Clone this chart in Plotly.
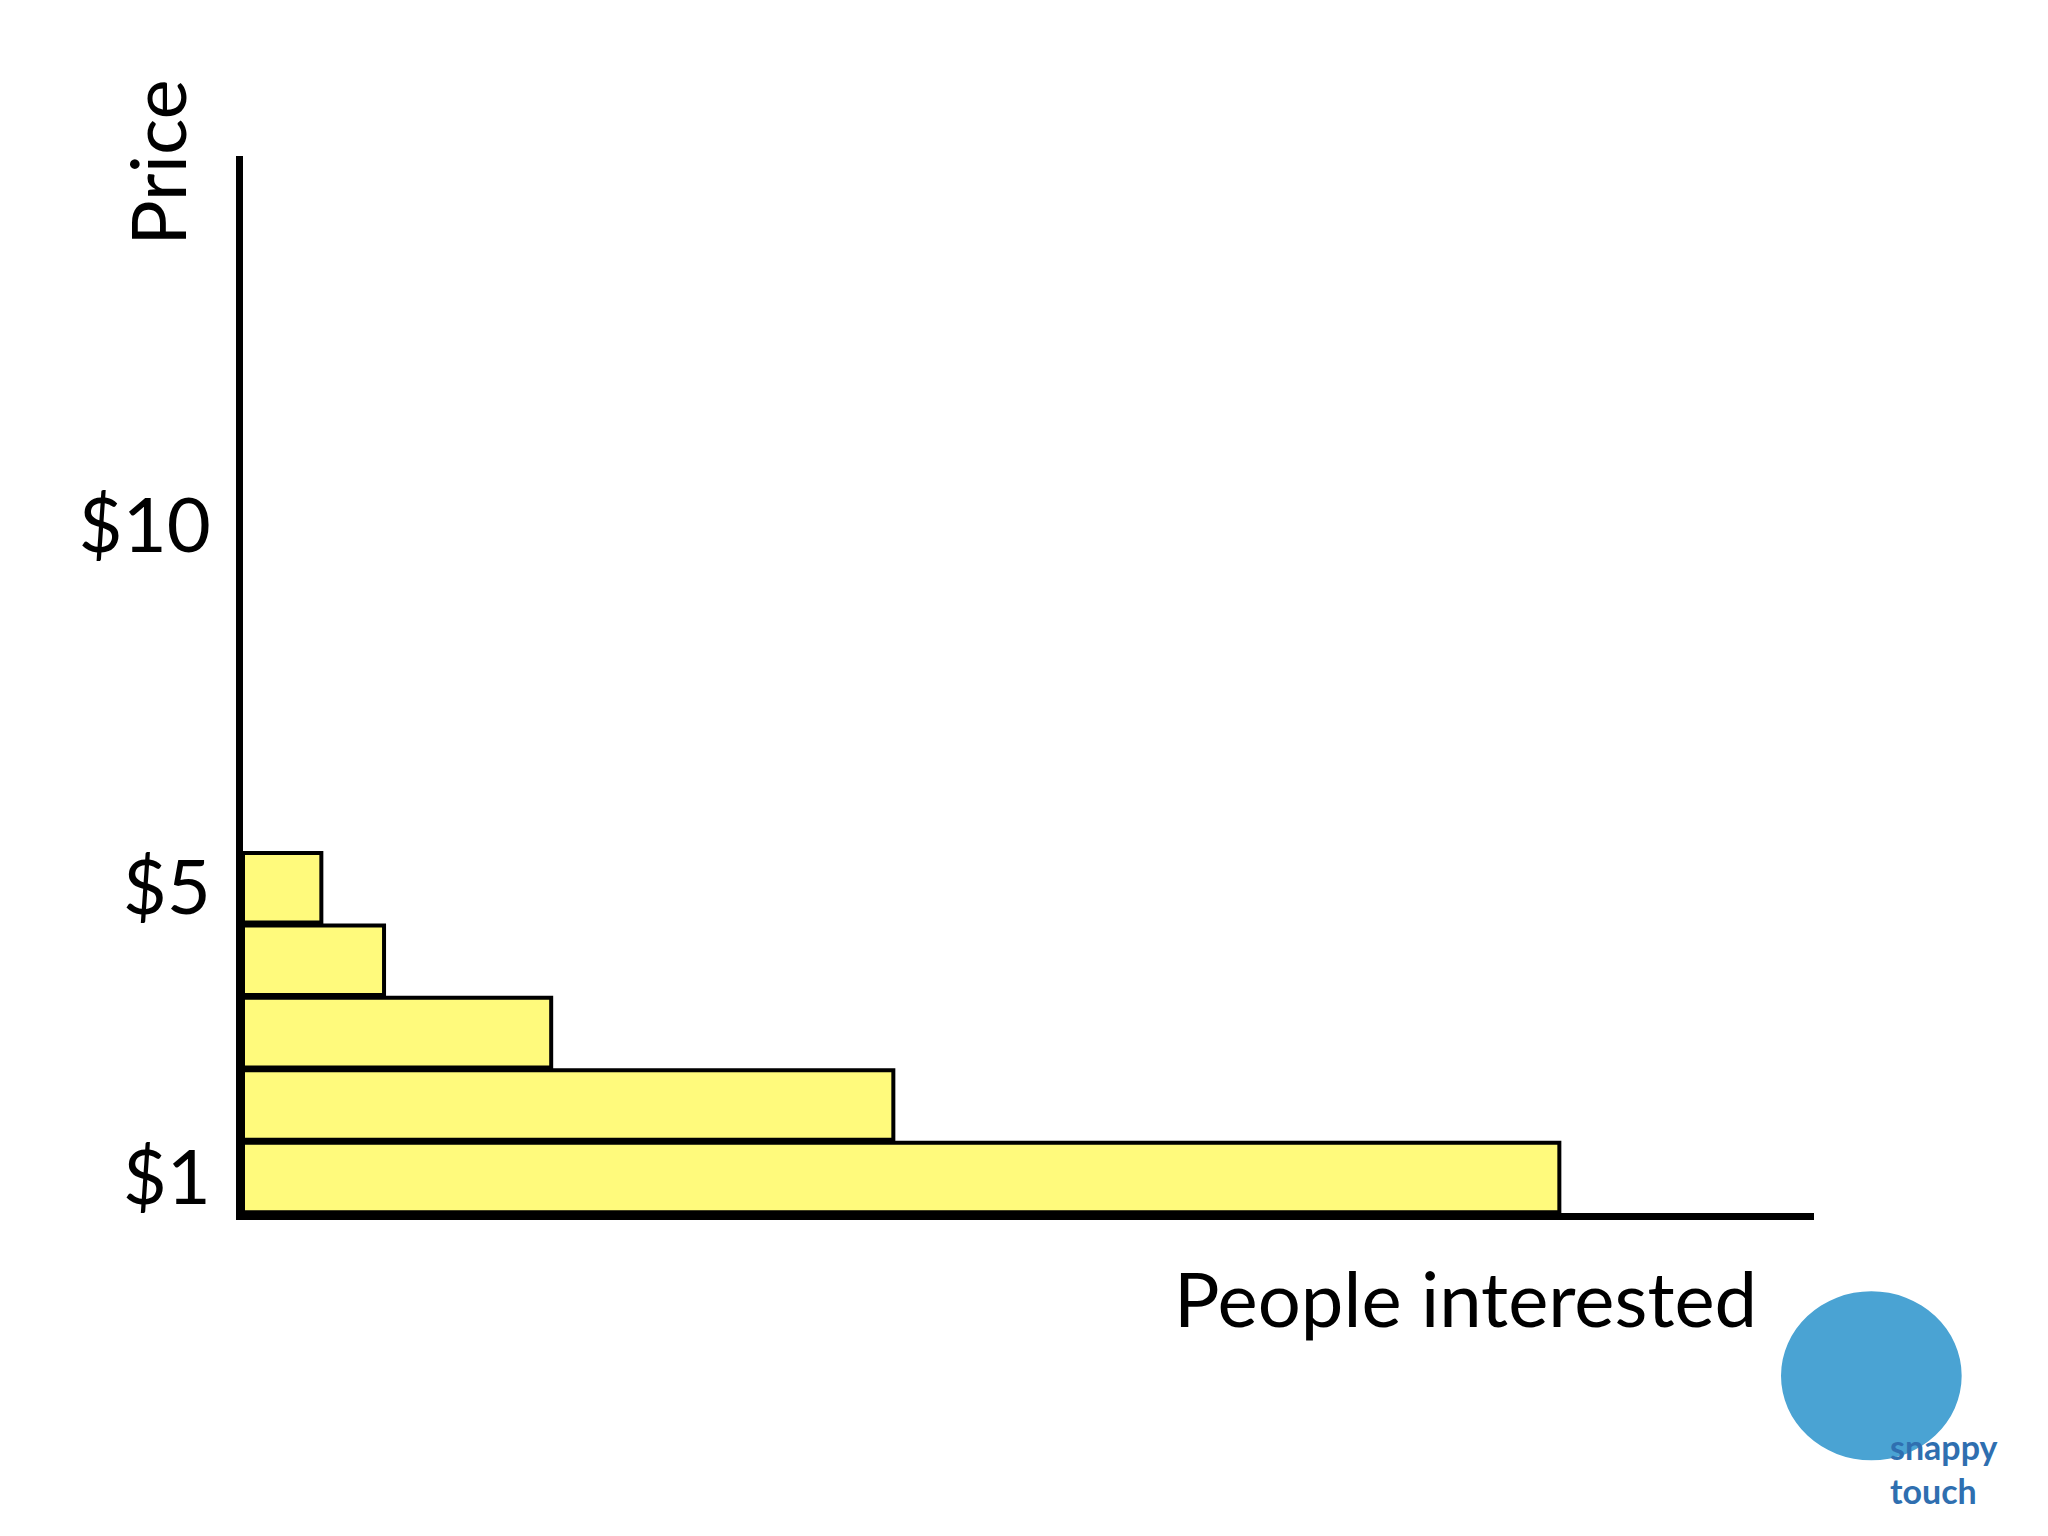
import plotly.graph_objects as go

prices = [1, 2, 3, 4, 5]
people = [1008, 498, 236, 108, 60]
tick_vals = [1, 5, 10]
tick_text = ["$1", "$5", "$10"]

fig = go.Figure()
fig.add_trace(go.Bar(
    x=people, y=prices, orientation="h", width=0.96,
    marker=dict(color="#fffa7c", line=dict(color="black", width=4)),
))

fig.update_layout(
    width=2048, height=1536,
    margin=dict(l=235, r=242, t=148, b=331),
    plot_bgcolor="white", paper_bgcolor="white",
    showlegend=False,
    font=dict(family="Lato", color="black"),
    xaxis=dict(range=[0, 1203], showline=True, linecolor="black", linewidth=7,
               showgrid=False, zeroline=False, showticklabels=False, ticks=""),
    yaxis=dict(range=[0.51, 15.1], showline=True, linecolor="black", linewidth=7,
               showgrid=False, zeroline=False, tickvals=tick_vals, ticktext=tick_text,
               ticks="", tickfont=dict(size=76), ticklabelstandoff=10),
)

fig.add_annotation(text="Price", xref="paper", yref="paper", x=-0.055, y=1.075,
                   textangle=-90, showarrow=False, font=dict(size=76),
                   xanchor="center", yanchor="top")
fig.add_annotation(text="People interested", xref="paper", yref="paper", x=0.965, y=-0.035,
                   showarrow=False, font=dict(size=76), xanchor="right", yanchor="top")

# logo
fig.add_shape(type="circle", xref="paper", yref="paper",
              x0=0.979, x1=1.094, y0=-0.234, y1=-0.074,
              fillcolor="#4aa3d3", line=dict(width=0))
fig.add_annotation(text="<b>snappy<br>touch</b>", xref="paper", yref="paper", x=1.047, y=-0.2,
                   showarrow=False, font=dict(size=34, color="#2f6fb0"), align="left",
                   xanchor="left", yanchor="top")

fig.write_html("out.html")
